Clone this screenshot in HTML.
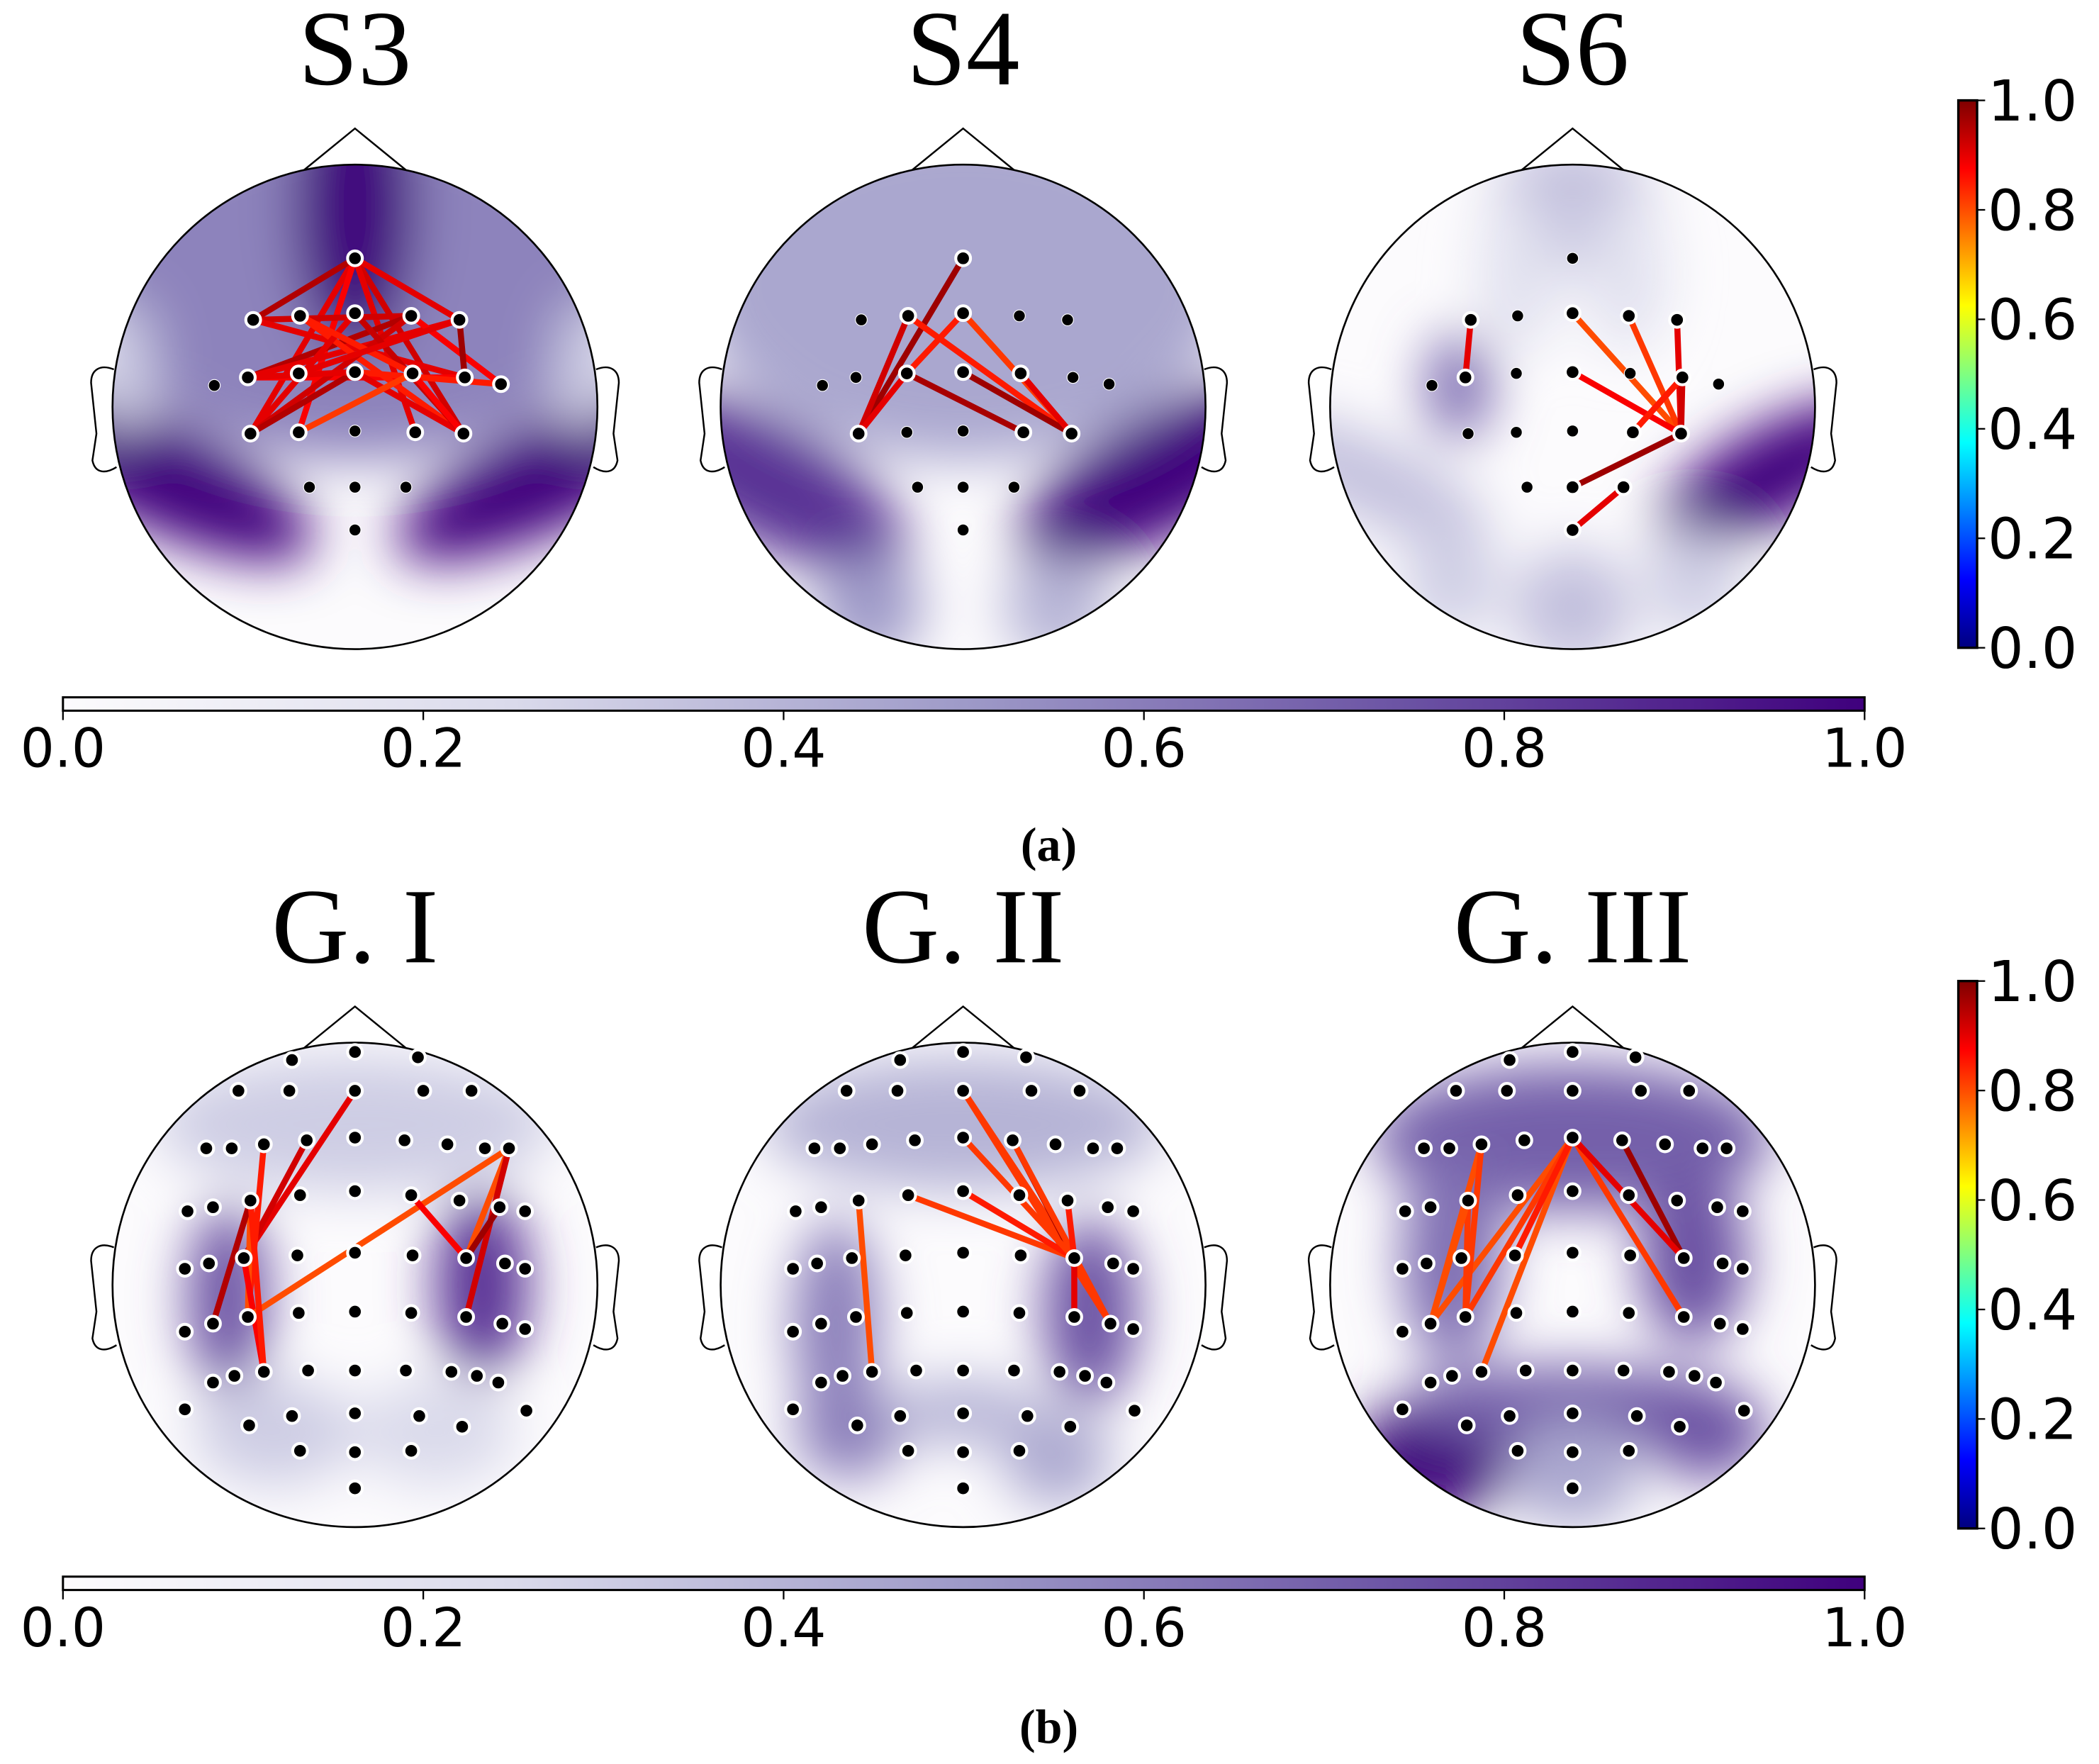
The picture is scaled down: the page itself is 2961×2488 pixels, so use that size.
<!DOCTYPE html>
<html><head><meta charset="utf-8"><style>
html,body{margin:0;padding:0;background:#fff}
svg{display:block}
</style></head><body>
<svg id="fig" xmlns="http://www.w3.org/2000/svg" width="2961" height="2488" viewBox="0 0 1567 1318" preserveAspectRatio="none">
<defs>
<filter id="blur" x="-50%" y="-50%" width="200%" height="200%"><feGaussianBlur stdDeviation="20"/></filter>
<linearGradient id="purpH" x1="0" x2="1" y1="0" y2="0">
<stop offset="0" stop-color="#fcfbfd"/><stop offset="0.25" stop-color="#dadaeb"/><stop offset="0.5" stop-color="#9e9ac8"/><stop offset="0.75" stop-color="#6a51a3"/><stop offset="1" stop-color="#3f007d"/>
</linearGradient>
<linearGradient id="jetV" x1="0" x2="0" y1="1" y2="0">
<stop offset="0" stop-color="#00007f"/><stop offset="0.125" stop-color="#0000ff"/><stop offset="0.375" stop-color="#00ffff"/><stop offset="0.625" stop-color="#ffff00"/><stop offset="0.875" stop-color="#ff0000"/><stop offset="1" stop-color="#7f0000"/>
</linearGradient>
</defs>
<g id="heads"></g>
<g id="static">
<text x="783" y="643" text-anchor="middle" font-family="Liberation Serif, serif" font-weight="bold" font-size="36">(a)</text>
<text x="783" y="1302" text-anchor="middle" font-family="Liberation Serif, serif" font-weight="bold" font-size="36">(b)</text>
</g>
</svg>
<script>
const NS="http://www.w3.org/2000/svg";
const svg=document.getElementById('fig');
const headsG=document.getElementById('heads');
// ---- data ----
const topTitles=["S3","S4","S6"];
const botTitles=["G. I","G. II","G. III"];
const headCX=[265,719,1174];
const topCY=304, botCY=960, R=181;
const topMontage=[[0,-111],[-76,-65],[-41,-68],[0,-70],[42,-68],[78,-65],[-105,-16],[-80,-22],[-42,-25],[0,-26],[43,-25],[82,-22],[109,-17],[-78,20],[-42,19],[0,18],[45,19],[81,20],[-34,60],[0,60],[38,60],[0,92]];
const botRows=[
[[218,792],[265,786],[312,790]],
[[178,815],[216,815],[265,815],[316,815],[352,815]],
[[154,858],[173,858],[197,855],[229,852],[265,850],[302,852],[334,855],[362,858],[380,858]],
[[140,905],[159,902],[187,897],[224,893],[265,890],[307,893],[343,897],[373,902],[392,905]],
[[138,948],[156,944],[182,940],[222,938],[265,936],[308,938],[348,940],[377,944],[392,948]],
[[138,995],[159,989],[185,984],[223,981],[265,980],[307,981],[348,984],[375,989],[392,993]],
[[159,1033],[175,1028],[197,1025],[230,1024],[265,1024],[303,1024],[337,1025],[356,1028],[372,1033]],
[[138,1053],[186,1065],[218,1058],[265,1056],[313,1058],[345,1066],[393,1054]],
[[224,1084],[265,1085],[307,1084]],
[[265,1112]]];
const edgesS3=[[0,-111,-78,20,0.9],[0,-111,81,20,0.92],[0,-111,-76,-65,0.95],[0,-111,78,-65,0.9],[0,-111,-42,19,0.88],[0,-111,45,19,0.9],
[-76,-65,42,-68,0.92],[-76,-65,82,-22,0.9],[-80,-22,42,-68,0.95],[-80,-22,78,-65,0.9],[-80,-22,82,-22,0.88],[-41,-68,81,20,0.85],
[-78,20,0,-70,0.9],[-78,20,42,-68,0.92],[-78,20,0,-26,0.95],[0,-26,109,-17,0.85],[0,-26,81,20,0.9],[0,-70,81,20,0.93],
[-41,-68,43,-25,0.85],[42,-68,109,-17,0.88],[78,-65,82,-22,0.97],[-42,19,43,-25,0.82],[-80,-22,0,-26,0.9],[-42,-25,78,-65,0.9],[43,-25,81,20,0.88]];
const edgesS4=[[0,-111,-76,20,0.97],[-42,-68,-76,20,0.92],[-42,-25,-76,20,0.9],[-42,-68,81,20,0.85],[0,-68,81,20,0.82],[0,-26,81,20,0.97],[-42,-25,45,19,0.96],[45,-25,81,20,0.9],[0,-68,-42,-25,0.85]];
const edgesS6=[[-77,-65,-80,-22,0.9],[0,-68,81,20,0.8],[43,-68,81,20,0.82],[77,-65,81,20,0.9],[0,-26,81,20,0.88],[81,-22,81,20,0.92],[43,19,81,-22,0.88],[0,60,81,20,0.97],[0,92,38,60,0.9],[81,-22,43,19,0.85]];
const edgesG1=[[0,-145,-83,-20,0.9],[-36,-105,-83,-20,0.92],[-68,-105,-78,24,0.85],[-78,-63,-80,24,0.8],[-83,-20,-68,65,0.88],[-78,-63,-106,35,0.95],[115,-102,-80,24,0.8],[42,-67,83,-20,0.88],[115,-102,83,-20,0.8],[115,-102,83,24,0.92],[108,-58,83,-20,0.97],[-78,-63,-68,65,0.85]];
const edgesG2=[[0,-147,84,-20,0.82],[0,-147,111,24,0.82],[-43,-63,84,-20,0.82],[0,-70,84,-20,0.85],[47,-108,84,-20,0.97],[47,-108,111,24,0.82],[-77,-63,-67,65,0.8],[84,-20,84,24,0.9],[91,-58,84,-20,0.85],[0,-108,84,-20,0.82]];
const edgesG3=[[0,-110,-106,30,0.8],[0,-110,-80,28,0.82],[0,-110,-67,65,0.8],[0,-110,-43,-22,0.85],[0,-110,81,28,0.82],[-68,-105,-106,30,0.8],[-75,-105,-80,28,0.82],[38,-110,84,-20,0.97],[0,-110,84,-20,0.9],[-77,-63,-80,28,0.82],[-77,-63,-106,30,0.8]];
const heatS3=[[0,-90,200,130,0,0.58],[0,-150,45,110,0,1.0],[-150,50,130,40,25,1.0],[150,50,130,40,-25,1.0],[-175,-30,25,50,0,0.3],[175,-30,25,50,0,0.3]];
const heatS4=[[0,-90,200,130,0,0.45],[-150,55,120,45,28,0.85],[150,50,120,45,-28,1.0],[-70,150,40,40,0,0.5],[70,150,40,40,0,0.4]];
const heatS6=[[0,-150,60,50,0,0.35],[-85,-15,25,40,0,0.65],[150,50,95,36,-28,1.0],[-150,55,95,30,25,0.35],[0,150,45,45,0,0.35],[-90,130,35,40,0,0.3],[90,130,35,40,0,0.3],[-40,-100,30,60,0,0.2],[40,-100,30,60,0,0.2]];
const heatG1=[[0,-120,150,50,0,0.3],[-95,10,30,70,0,0.75],[95,0,35,70,0,0.85],[-60,110,60,40,0,0.3],[60,110,60,40,0,0.25]];
const heatG2=[[0,-120,150,50,0,0.4],[-95,30,32,80,0,0.6],[95,20,35,70,0,0.75],[-85,110,40,35,0,0.6],[0,95,60,25,0,0.4],[70,130,40,35,0,0.45]];
const heatG3=[[0,-110,150,55,0,0.7],[-90,-20,38,80,0,0.65],[90,-20,40,65,0,0.75],[-105,130,60,45,0,1.0],[0,90,130,30,0,0.7],[100,110,45,35,0,0.75],[0,140,50,40,0,0.45]];
const cbTicks=[0,0.2,0.4,0.6,0.8,1.0];

function lerp(a,b,t){return a+(b-a)*t}
function purples(v){const st=[[252,251,253],[218,218,235],[158,154,200],[106,81,163],[63,0,125]];
 v=Math.max(0,Math.min(1,v));const p=v*4,i=Math.min(3,Math.floor(p)),t=p-i;
 const c=st[i].map((x,k)=>Math.round(lerp(x,st[i+1][k],t)));return `rgb(${c})`;}
function jet(v){const st=[[0,[0,0,127]],[0.125,[0,0,255]],[0.375,[0,255,255]],[0.625,[255,255,0]],[0.875,[255,0,0]],[1,[127,0,0]]];
 for(let i=0;i<st.length-1;i++){if(v<=st[i+1][0]){const t=(v-st[i][0])/(st[i+1][0]-st[i][0]);return `rgb(${st[i][1].map((x,k)=>Math.round(lerp(x,st[i+1][1][k],t)))})`}}return 'rgb(127,0,0)';}
function el(tag,attrs,parent){const e=document.createElementNS(NS,tag);for(const k in attrs)e.setAttribute(k,attrs[k]);(parent||svg).appendChild(e);return e;}

const botMontage=[];botRows.forEach(r=>r.forEach(p=>botMontage.push([p[0]-265,p[1]-960])));
function nearest(m,x,y){let b=0,bd=1e9;m.forEach((p,i)=>{const d=(p[0]-x)**2+(p[1]-y)**2;if(d<bd){bd=d;b=i}});return b;}

function drawHead(idx,cx,cy,title,montage,edges,heat,prefix){
 const g=el('g',{},headsG);
 
 
 const clipId='clip-'+prefix;
 const cp=el('clipPath',{id:clipId},g);el('circle',{cx:cx,cy:cy,r:R},cp);
 const t=el('text',{x:cx,y:cy-R-60,'text-anchor':'middle','font-family':'Liberation Serif, serif','font-size':80},g);
 
 
 t.textContent=title;
 const nose=el('polyline',{points:`${cx-38},${cy-177} ${cx},${cy-208} ${cx+38},${cy-177}`,fill:'#fff',stroke:'#000','stroke-width':1.3},g);
 
 
 [-1,1].forEach(s=>{
  const e=el('path',{d:`M ${cx+s*180} ${cy-28} C ${cx+s*190} ${cy-32} ${cx+s*197} ${cy-28} ${cx+s*197} ${cy-18} L ${cx+s*193} ${cy+20} L ${cx+s*196} ${cy+40} C ${cx+s*194} ${cy+50} ${cx+s*186} ${cy+50} ${cx+s*178} ${cy+45}`,fill:'#fff',stroke:'#000','stroke-width':1.3},g);
  
  
 });
 const hg=el('g',{'clip-path':`url(#${clipId})`},g);
 el('circle',{cx:cx,cy:cy,r:R,fill:'#fcfbfd'},hg);
 const bg=el('g',{filter:'url(#blur)'},hg);
 heat.forEach(b=>{
  const e=el('ellipse',{cx:cx+b[0],cy:cy+b[1],rx:b[2],ry:b[3],fill:purples(b[5]),transform:`rotate(${b[4]} ${cx+b[0]} ${cy+b[1]})`},bg);
  
  
 });
 const outline=el('circle',{cx:cx,cy:cy,r:R,fill:'none',stroke:'#000','stroke-width':1.4},g);
 
 
 const used=new Set();
 const eg=el('g',{},g);
 edges.forEach(e=>{
  const a=nearest(montage,e[0],e[1]),b=nearest(montage,e[2],e[3]);used.add(a);used.add(b);
  const ln=el('line',{x1:cx+montage[a][0],y1:cy+montage[a][1],x2:cx+montage[b][0],y2:cy+montage[b][1],stroke:jet(e[4]),'stroke-width':4.5,'stroke-linecap':'round'},eg);
  
  
 });
 const ring = montage.length>30;
 montage.forEach((p,i)=>{
  const hl=used.has(i)||ring;
  const c=el('circle',{cx:cx+p[0],cy:cy+p[1],r:hl?5.5:4.4,fill:'#000',stroke:'#fff','stroke-width':hl?2.2:0.6},g);
  
  
 });
}
drawHead(0,headCX[0],topCY,topTitles[0],topMontage,edgesS3,heatS3,'s3');
drawHead(1,headCX[1],topCY,topTitles[1],topMontage,edgesS4,heatS4,'s4');
drawHead(2,headCX[2],topCY,topTitles[2],topMontage,edgesS6,heatS6,'s6');
drawHead(0,headCX[0],botCY,botTitles[0],botMontage,edgesG1,heatG1,'g1');
drawHead(1,headCX[1],botCY,botTitles[1],botMontage,edgesG2,heatG2,'g2');
drawHead(2,headCX[2],botCY,botTitles[2],botMontage,edgesG3,heatG3,'g3');

function hColorbar(y,prefix){
 const g=el('g',{});
 
 
 el('rect',{x:47,y:y,width:1345,height:10,fill:'url(#purpH)',stroke:'#000','stroke-width':1.6},g);
 cbTicks.forEach(v=>{const x=47+1345*v;
  el('line',{x1:x,y1:y+10,x2:x,y2:y+17,stroke:'#000','stroke-width':1.2},g);
  const t=el('text',{x:x,y:y+52,'text-anchor':'middle','font-family':'DejaVu Sans, sans-serif','font-size':40},g);
  
  
  t.textContent=v.toFixed(1);});
}
hColorbar(521,'a');hColorbar(1178,'b');
function vColorbar(y0,prefix){
 const g=el('g',{});
 
 
 const h=409;
 el('rect',{x:1462,y:y0,width:14,height:h,fill:'url(#jetV)',stroke:'#000','stroke-width':1.8},g);
 cbTicks.forEach(v=>{const y=y0+h*(1-v);
  el('line',{x1:1476,y1:y,x2:1482,y2:y,stroke:'#000','stroke-width':1.2},g);
  const t=el('text',{x:1484,y:y+15,'font-family':'DejaVu Sans, sans-serif','font-size':42},g);
  
  
  t.textContent=v.toFixed(1);});
}
vColorbar(75,'a');vColorbar(733,'b');
</script>
</body></html>
